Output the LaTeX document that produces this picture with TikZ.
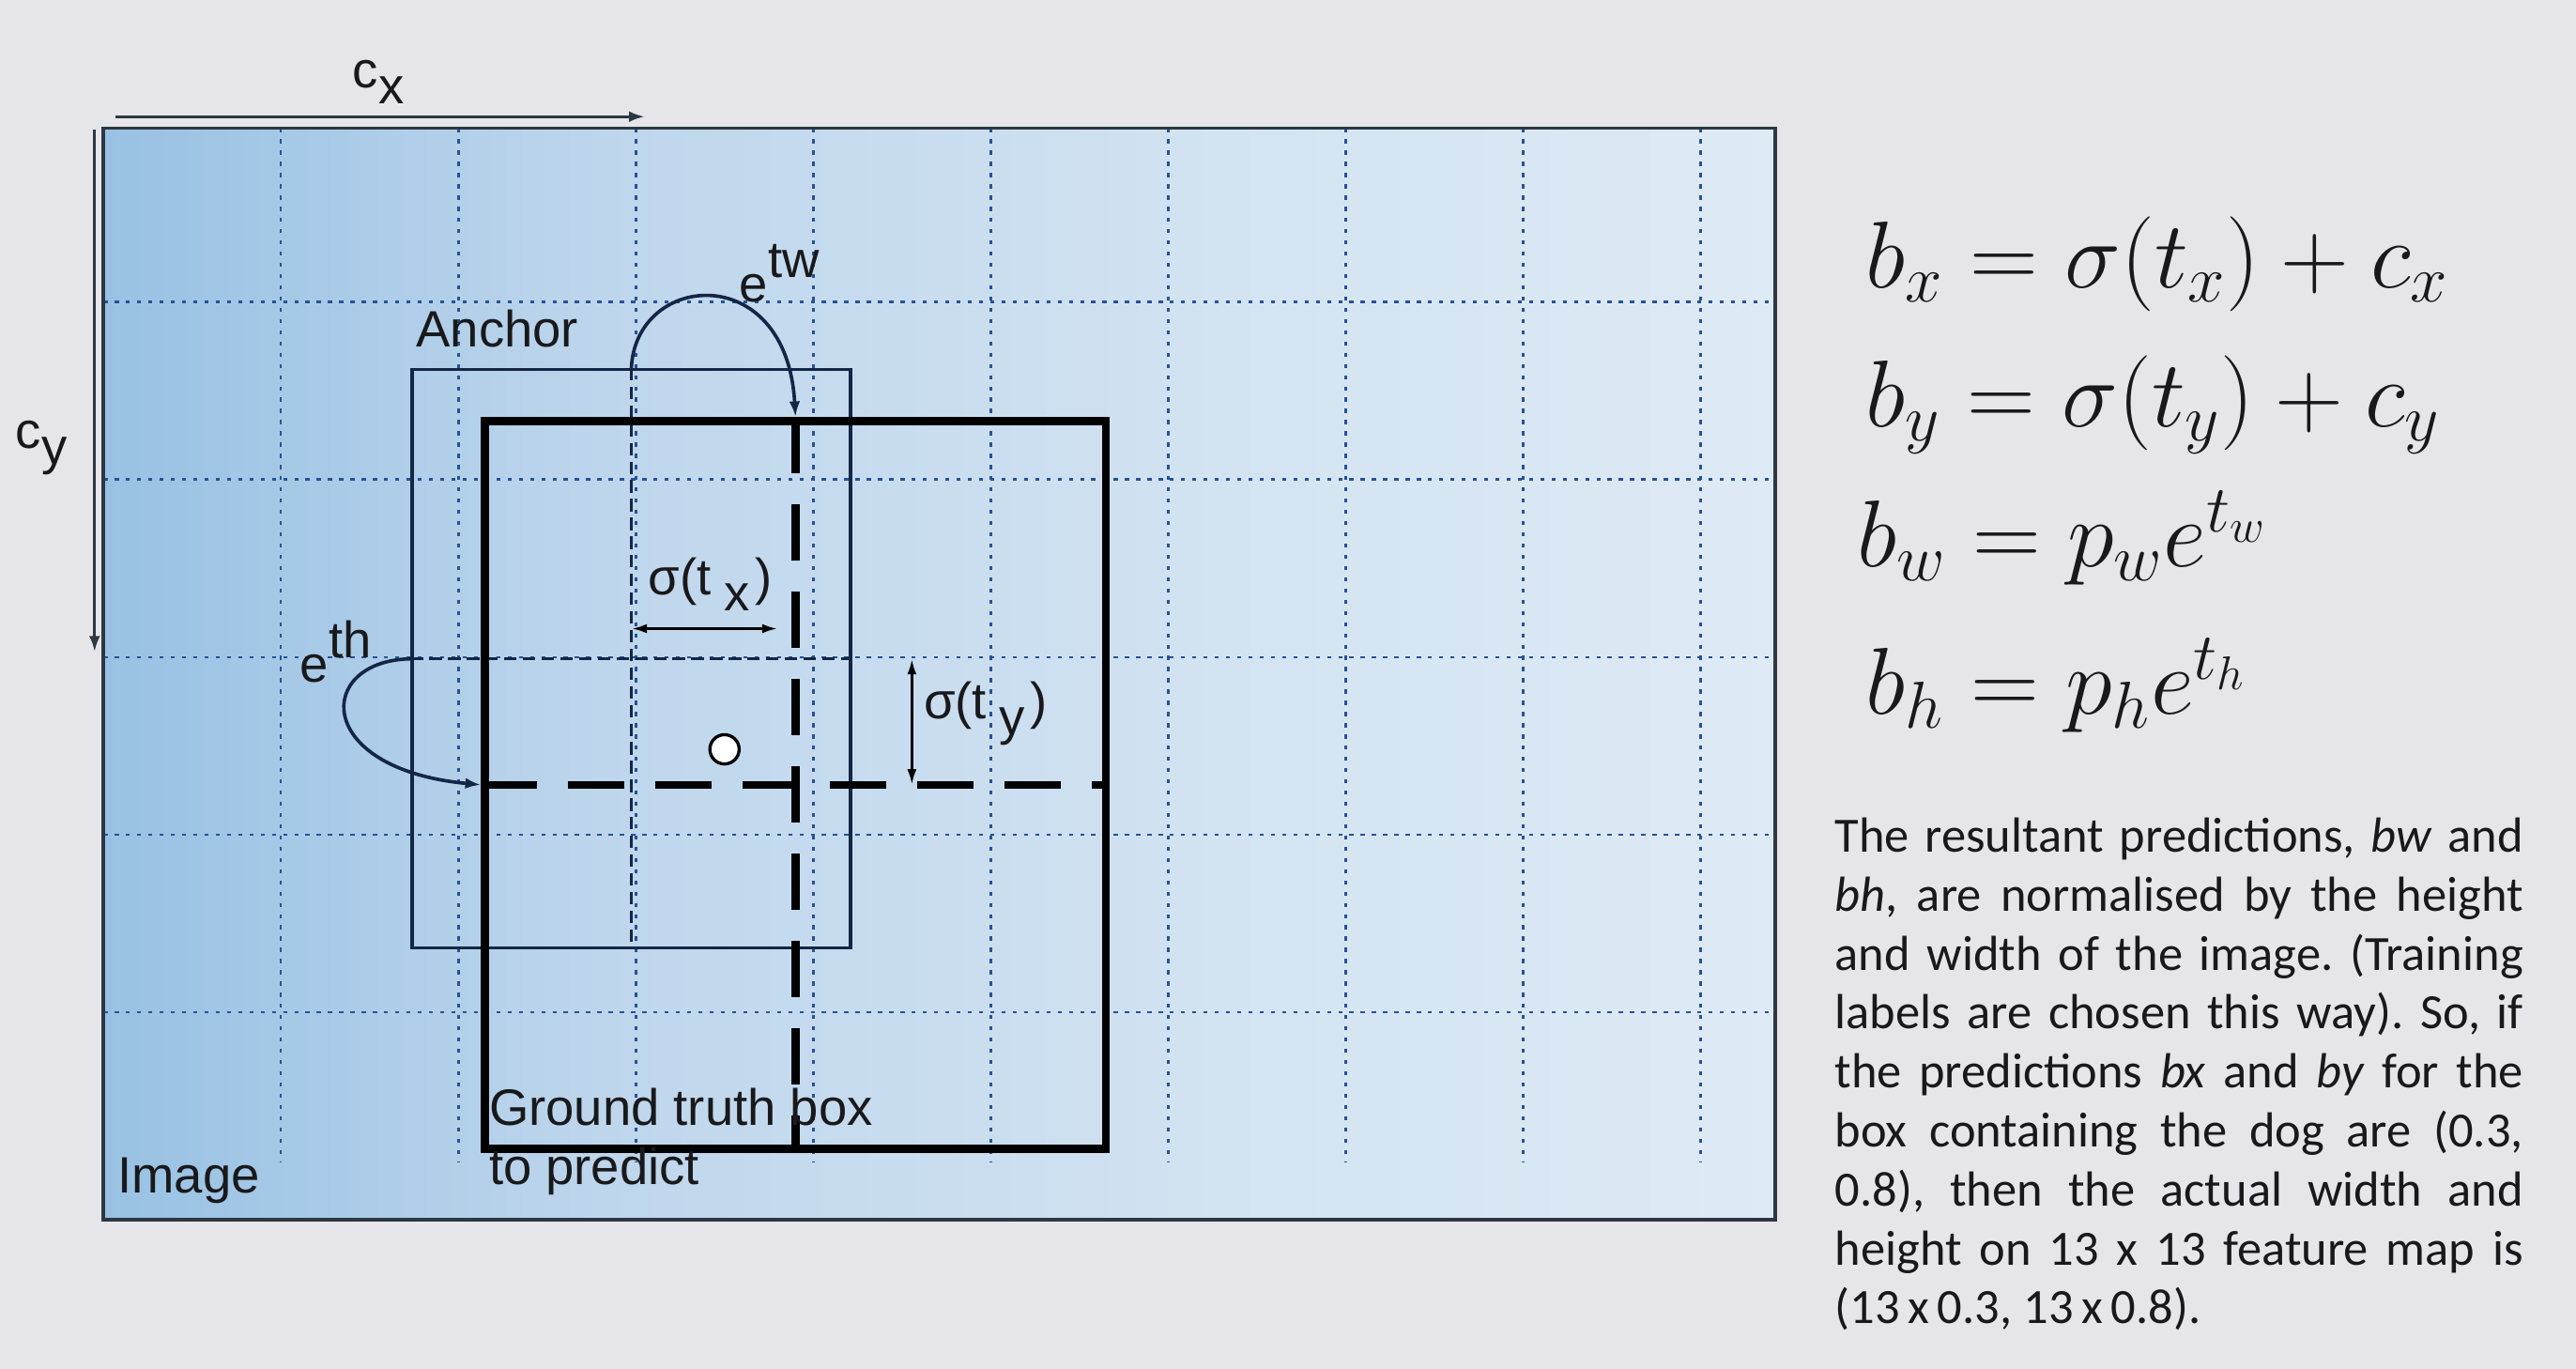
\RequirePackage{fix-cm}
\documentclass[tikz,border=0pt]{standalone}
\usepackage{fontspec}
\usepackage{tikz}
\usetikzlibrary{arrows.meta, positioning, calc}
\newfontfamily\labelfont{Liberation Sans}
\newfontfamily\notefont{Carlito}
\frenchspacing
\definecolor{cPage}{RGB}{230,230,234}
\definecolor{cImgL}{RGB}{152,193,227}
\definecolor{cImgM}{RGB}{190,214,236}
\definecolor{cImgN}{RGB}{212,228,242}
\definecolor{cImgR}{RGB}{222,234,245}
\definecolor{cGrid}{RGB}{38,82,150}
\definecolor{cFrame}{RGB}{45,55,65}
\definecolor{cNavy}{RGB}{20,38,70}
\definecolor{cInk}{RGB}{25,25,28}
\pgfdeclarehorizontalshading{imgshade}{100bp}{color(0bp)=(cImgL); color(25bp)=(cImgL); color(40bp)=(cImgM); color(60bp)=(cImgN); color(75bp)=(cImgR); color(100bp)=(cImgR)}
\tikzset{
	gridline/.style   ={cGrid, line width=0.75pt, dash pattern=on 1.3pt off 2.3pt},
	imgframe/.style   ={draw=cFrame, line width=1.1pt},
	axisarrow/.style  ={-{Latex[length=5pt,width=3.5pt]}, cFrame, line width=0.9pt},
	anchorbox/.style  ={rectangle, draw=cNavy, line width=1pt, inner sep=0pt},
	gtbox/.style      ={rectangle, draw=black, line width=2.6pt, inner sep=0pt},
	centreline/.style ={cNavy, line width=0.8pt, dash pattern=on 4pt off 2pt},
	gtcentre/.style   ={black, line width=2.6pt, dash pattern=on 18pt off 10pt},
	scalearc/.style   ={-{Latex[length=5pt,width=3.5pt]}, cNavy, line width=1.1pt},
	offsetarrow/.style={{Latex[length=5pt,width=3pt]}-{Latex[length=5pt,width=3pt]}, black, line width=0.9pt},
	ctrdot/.style     ={circle, draw=black, fill=white, line width=1pt, minimum size=0.33cm, inner sep=0pt},
	lbl/.style        ={font=\labelfont\fontsize{16.4}{18.9}\selectfont, text=cInk, inner sep=0pt},
	eqn/.style        ={font=\fontsize{30.4}{36}\selectfont, text=cInk, inner sep=0pt, anchor=base west},
	notetext/.style   ={font=\notefont\fontsize{15.8}{18.9}\selectfont, text=cInk, inner sep=0pt, text width=7.76cm, align=justify, anchor=base west},
}

\begin{document}
\begin{tikzpicture}[x=2cm, y=2cm]
	\useasboundingbox (-0.5833,0.7222) rectangle (13.935,-6.9907);
	\fill[cPage] (-0.5833,0.7222) rectangle (13.935,-6.9907);
	% image with grid cells
	\shade[shading=imgshade] (0,0) rectangle (9.42,-6.15);
	\foreach \gx in {1,...,9}
		\draw[gridline] (\gx,0) -- (\gx,-5.83);
	\foreach \gy in {1,...,5}
		\draw[gridline] (0,-\gy+0.02) -- (9.42,-\gy+0.02);
	\draw[imgframe] (0,0) rectangle (9.42,-6.15);
	\coordinate (cx-a) at (0.07,0.065);
	\coordinate (cx-b) at (3.05,0.065);
	\coordinate (cy-a) at (-0.05,-0.01);
	\coordinate (cy-b) at (-0.05,-2.95);
	\draw[axisarrow] (cx-a) -- (cx-b);
	\draw[axisarrow] (cy-a) -- (cy-b);
	\node[lbl] (cxlab) at (1.55,0.26) {c\raisebox{-0.6ex}{x}};
	\node[lbl] (cylab) at (-0.35,-1.80) {c\raisebox{-0.6ex}{y}};
	% anchor and ground truth boxes
	\node[anchorbox, minimum width=4.94cm, minimum height=6.52cm] (anchor) at (2.975,-2.99) {};
	\draw[centreline] (anchor.north) -- (anchor.south);
	\draw[centreline] (anchor.west) -- (anchor.east);
	\node[gtbox, minimum width=7cm, minimum height=8.2cm] (gt) at (3.9,-3.70) {};
	\draw[gtcentre] (gt.north) -- (gt.south);
	\draw[gtcentre] (gt.west) -- (gt.east);
	\draw[scalearc] (anchor.north) .. controls +(0.025,0.54) and +(-0.05,0.89) .. (gt.north);
	\draw[scalearc] (anchor.west) .. controls +(-0.54,-0.01) and +(-0.95,0.09) .. (gt.west);
	\coordinate (sx-a) at (2.975,-2.82);
	\coordinate (sx-b) at (3.80,-2.82);
	\coordinate (sy-a) at (4.556,-3.70);
	\coordinate (sy-b) at (4.556,-2.99);
	\draw[offsetarrow] (sx-a) -- (sx-b);
	\draw[offsetarrow] (sy-a) -- (sy-b);
	\node[ctrdot] (boxc) at (3.5,-3.5) {};
	\node[lbl] (anclab) at (2.22,-1.13) {Anchor};
	\node[lbl] (twlab) at (3.81,-0.82) {e\raisebox{0.9ex}{tw}};
	\node[lbl] (thlab) at (1.31,-2.95) {e\raisebox{0.9ex}{th}};
	\node[lbl] (txlab) at (3.42,-2.57) {σ(t\hspace{.25em}\raisebox{-.6ex}{x}\hspace{.1em})};
	\node[lbl, anchor=west] (tylab) at (4.62,-3.30) {σ(t\hspace{.25em}\raisebox{-.6ex}{y}\hspace{.1em})};
	\node[lbl, anchor=west, align=left] (gtlab) at (2.17,-5.71) {Ground truth box\\to predict};
	\node[lbl] (imglab) at (0.48,-5.93) {Image};
	% formulas and note
	\node[eqn] (eqx) at (9.93,-0.898) {$b_x = \sigma(t_x) + c_x$};
	\node[eqn] (eqy) at (9.93,-1.68) {$b_y = \sigma(t_y) + c_y$};
	\node[eqn] (eqw) at (9.88,-2.47) {$b_w = p_w e^{t_w}$};
	\node[eqn] (eqh) at (9.93,-3.30) {$b_h = p_h e^{t_h}$};
	\node[notetext] (note) at (9.755,-4.08) {The resultant predictions, \textit{bw} and\linebreak
		\textit{bh}, are normalised by the height\linebreak
		and width of the image. (Training\linebreak
		labels are chosen this way). So, if\linebreak
		the predictions \textit{bx} and \textit{by} for the\linebreak
		box containing the dog are (0.3,\linebreak
		0.8), then the actual width and\linebreak
		height on 13 x 13 feature map is\linebreak
		(13\,x\,0.3, 13\,x\,0.8).};
\end{tikzpicture}
\end{document}
